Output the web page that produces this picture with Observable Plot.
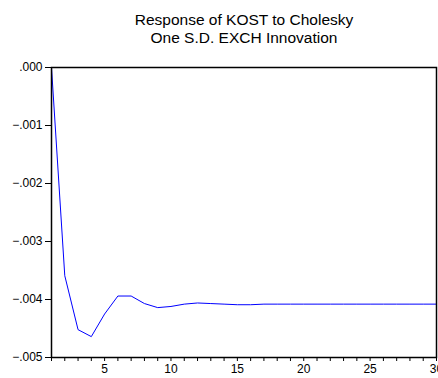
<!DOCTYPE html>
<html>
<head>
<meta charset="utf-8">
<script src="https://cdn.jsdelivr.net/npm/d3@7"></script>
<script src="https://cdn.jsdelivr.net/npm/@observablehq/plot@0.6"></script>
<style>
  html, body { margin: 0; padding: 0; background: #fff; overflow: hidden; }
  #chart svg { display: block; }
</style>
</head>
<body>
<div id="chart"></div>
<script>
const titleLines = ["Response of KOST to Cholesky", "One S.D. EXCH Innovation"];
const periods = d3.range(1, 31);
const response = [
  0.00000, -0.00359, -0.00452, -0.00464, -0.00425, -0.00394, -0.00394, -0.00407,
  -0.00414, -0.00412, -0.00408, -0.00406, -0.00407, -0.00408, -0.00409, -0.00409,
  -0.00408, -0.00408, -0.00408, -0.00408, -0.00408, -0.00408, -0.00408, -0.00408,
  -0.00408, -0.00408, -0.00408, -0.00408, -0.00408, -0.00408
];
const yTicks = [0, -0.001, -0.002, -0.003, -0.004, -0.005];
const xLabels = [5, 10, 15, 20, 25, 30];

const data = periods.map((p, i) => ({period: p, value: response[i]}));
const fmtY = v => d3.format(".3f")(v).replace("0.", ".");

const W = 438, H = 378;
const chart = Plot.plot({
  width: W,
  height: H,
  marginLeft: 51,
  marginRight: 2,
  marginTop: 67,
  marginBottom: 21,
  style: {fontFamily: "Arial, 'Liberation Sans', sans-serif", background: "#fff", color: "#000"},
  x: {domain: [1, 30]},
  y: {domain: [-0.005, 0]},
  marks: [
    Plot.axisY({ticks: yTicks, tickFormat: fmtY, tickSize: 6, tickPadding: 3, fontSize: 12, label: null, stroke: "#000"}),
    Plot.axisX({ticks: periods, tickFormat: d => xLabels.includes(d) ? String(d) : "", tickSize: 4, tickPadding: 3, fontSize: 12, label: null, stroke: "#000"}),
    Plot.line(data, {x: "period", y: "value", stroke: "#0000ff", strokeWidth: 1}),
    Plot.frame({stroke: "#000", strokeWidth: 1.5}),
    Plot.text([titleLines[0]], {text: d => d, frameAnchor: "top", lineAnchor: "bottom", dy: -43, fontSize: 15.5, fill: "#000"}),
    Plot.text([titleLines[1]], {text: d => d, frameAnchor: "top", lineAnchor: "bottom", dy: -24.5, fontSize: 15.5, fill: "#000"})
  ]
});
document.getElementById("chart").appendChild(chart);
</script>
</body>
</html>
